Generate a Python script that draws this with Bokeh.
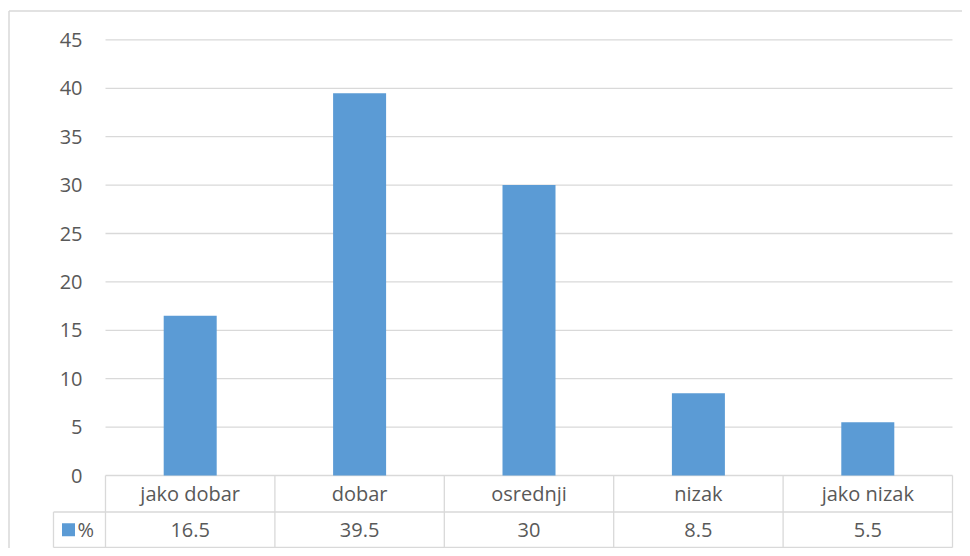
from bokeh.plotting import figure
from bokeh.models import Range1d
from bokeh.core.properties import value
from bokeh.embed import file_html
from bokeh.resources import INLINE

# ---- data ----
categories = ["jako dobar", "dobar", "osrednji", "nizak", "jako nizak"]
percent = [16.5, 39.5, 30, 8.5, 5.5]
series_name = "%"
y_ticks = [0, 5, 10, 15, 20, 25, 30, 35, 40, 45]

# ---- layout constants (pixels within the figure) ----
FIG_W, FIG_H = 962, 548
BORDER_X, BORDER_Y = 8.5, 10.5             # outer chart-area border
PLOT_LEFT = 105                            # x of first category boundary
CAT_W = 169.4                              # width of one category
ZERO_Y = 475                               # y of value 0
UNIT = 9.68                                # pixels per value unit
ROW_H1, ROW_H2 = 36.5, 35.5                # table row heights
LEGEND_LEFT = 53
LABEL_RIGHT = 82
BAR_W = 53

def dx(px):
    return (px - PLOT_LEFT) / CAT_W

def dy(px):
    return (ZERO_Y - px) / UNIT

GRID = "#d9d9d9"
TXT = "#595959"
BLUE = "#5b9bd5"
FONT = value("Open Sans")
FS = "20px"

x_range = Range1d(dx(0), dx(FIG_W))
y_range = Range1d(dy(FIG_H), dy(0))

p = figure(width=FIG_W, height=FIG_H, x_range=x_range, y_range=y_range,
           x_axis_type=None, y_axis_type=None, output_backend="svg",
           toolbar_location=None, min_border_left=0, min_border_right=0,
           min_border_top=0, min_border_bottom=0)
p.outline_line_color = None
p.background_fill_color = "white"
p.border_fill_color = "white"

n = len(categories)
centers = [i + 0.5 for i in range(n)]

# outer chart-area border (left and top)
p.segment(x0=[dx(BORDER_X), dx(BORDER_X)], y0=[y_range.start, dy(BORDER_Y)],
          x1=[dx(BORDER_X), x_range.end], y1=[dy(BORDER_Y), dy(BORDER_Y)],
          line_color=GRID, line_width=1.5)

# horizontal gridlines
p.segment(x0=[0] * len(y_ticks), y0=y_ticks, x1=[n] * len(y_ticks), y1=y_ticks,
          line_color=GRID, line_width=1.3)

# bars
p.vbar(x=centers, top=percent, bottom=0, width=BAR_W / CAT_W,
       fill_color=BLUE, line_color=None)

# y tick labels
p.text(x=[dx(LABEL_RIGHT)] * len(y_ticks), y=y_ticks, text=[str(t) for t in y_ticks],
       text_align="right", text_baseline="middle", text_color=TXT,
       text_font=FONT, text_font_size=FS)

# data table
row1_bottom = dy(ZERO_Y + ROW_H1)
row2_bottom = dy(ZERO_Y + ROW_H1 + ROW_H2)
p.segment(x0=[dx(LEGEND_LEFT), dx(LEGEND_LEFT)], y0=[row1_bottom, row2_bottom],
          x1=[n, n], y1=[row1_bottom, row2_bottom], line_color=GRID, line_width=1.3)
p.segment(x0=list(range(n + 1)), y0=[0] * (n + 1), x1=list(range(n + 1)),
          y1=[row2_bottom] * (n + 1), line_color=GRID, line_width=1.3)
p.segment(x0=[dx(LEGEND_LEFT)], y0=[row1_bottom], x1=[dx(LEGEND_LEFT)], y1=[row2_bottom],
          line_color=GRID, line_width=1.3)

row1_mid = dy(ZERO_Y + ROW_H1 / 2)
row2_mid = dy(ZERO_Y + ROW_H1 + ROW_H2 / 2)
p.text(x=centers, y=[row1_mid] * n, text=categories, text_align="center",
       text_baseline="middle", text_color=TXT, text_font=FONT, text_font_size=FS)
p.text(x=centers, y=[row2_mid] * n, text=[f"{v:g}" for v in percent],
       text_align="center", text_baseline="middle", text_color=TXT,
       text_font=FONT, text_font_size=FS)

# legend key in table
p.scatter(x=[dx(68)], y=[row2_mid], marker="square", size=13,
          fill_color=BLUE, line_color=None)
p.text(x=[dx(77)], y=[row2_mid], text=[series_name], text_align="left",
       text_baseline="middle", text_color=TXT, text_font=FONT, text_font_size=FS)

open("out.html", "w").write(file_html(p, INLINE))
